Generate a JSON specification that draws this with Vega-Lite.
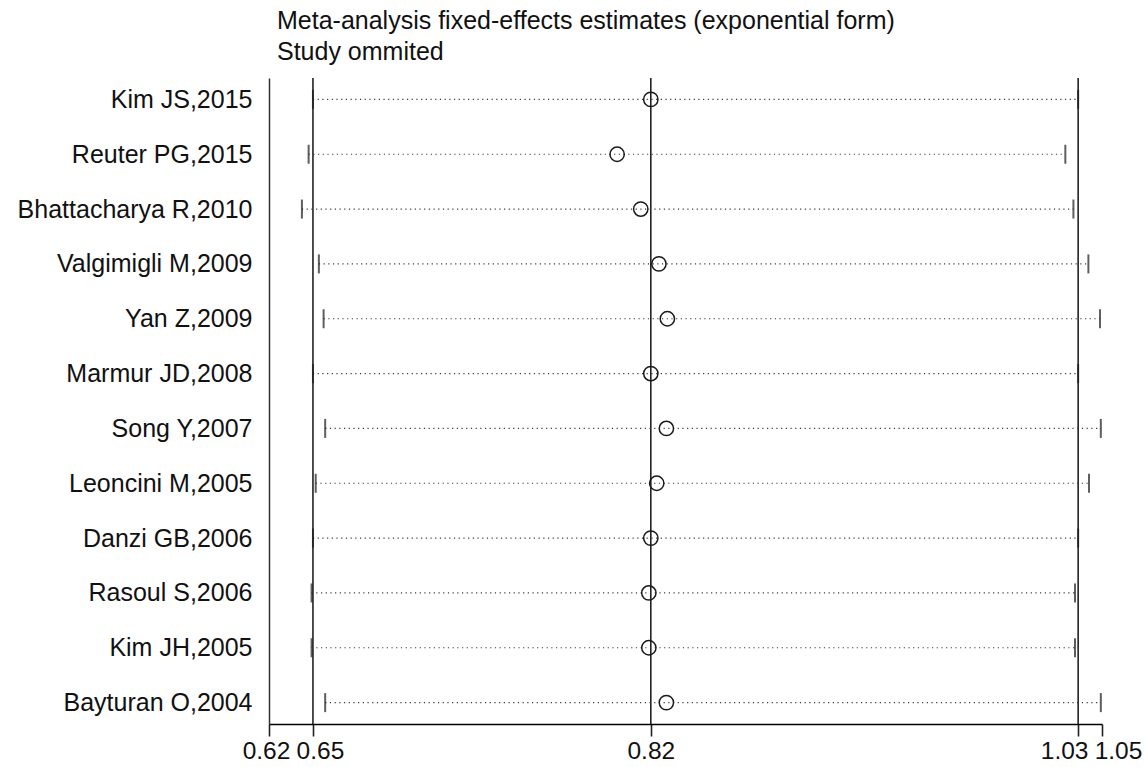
{
  "$schema": "https://vega.github.io/schema/vega-lite/v6.json",
  "width": 833,
  "height": 646,
  "autosize": {"type": "none"},
  "padding": {"left": 269, "top": 78, "right": 42, "bottom": 43},
  "background": "white",
  "config": {
    "view": {"stroke": null},
    "font": "Liberation Sans"
  },
  "title": {
    "text": ["Meta-analysis fixed-effects estimates (exponential form)", "Study ommited"],
    "anchor": "start",
    "frame": "group",
    "dx": 8,
    "fontSize": 25,
    "fontWeight": "normal",
    "font": "Liberation Sans",
    "color": "#111111",
    "lineHeight": 31,
    "offset": 12
  },
  "datasets": {
    "studies": [
      {"study": "Kim JS,2015", "lower": 0.646, "est": 0.8174, "upper": 1.0342},
      {"study": "Reuter PG,2015", "lower": 0.6438, "est": 0.8003, "upper": 1.0277},
      {"study": "Bhattacharya R,2010", "lower": 0.6404, "est": 0.8123, "upper": 1.0318},
      {"study": "Valgimigli M,2009", "lower": 0.649, "est": 0.8215, "upper": 1.0394},
      {"study": "Yan Z,2009", "lower": 0.6514, "est": 0.8258, "upper": 1.0453},
      {"study": "Marmur JD,2008", "lower": 0.646, "est": 0.8174, "upper": 1.0342},
      {"study": "Song Y,2007", "lower": 0.6522, "est": 0.8253, "upper": 1.0457},
      {"study": "Leoncini M,2005", "lower": 0.6474, "est": 0.8204, "upper": 1.0397},
      {"study": "Danzi GB,2006", "lower": 0.646, "est": 0.8174, "upper": 1.0342},
      {"study": "Rasoul S,2006", "lower": 0.6453, "est": 0.8164, "upper": 1.0326},
      {"study": "Kim JH,2005", "lower": 0.6453, "est": 0.8164, "upper": 1.0326},
      {"study": "Bayturan O,2004", "lower": 0.6522, "est": 0.8253, "upper": 1.0457}
    ],
    "overall": [
      {"value": 0.646},
      {"value": 0.8174},
      {"value": 1.0342}
    ]
  },
  "layer": [
    {
      "data": {"name": "overall"},
      "mark": {"type": "rule", "color": "#222222", "strokeWidth": 1.6},
      "encoding": {
        "x": {"field": "value", "type": "quantitative"}
      }
    },
    {
      "data": {"name": "studies"},
      "mark": {"type": "rule", "color": "#3a3a3a", "strokeWidth": 1.2, "strokeDash": [1.2, 3.5]},
      "encoding": {
        "y": {"field": "study", "type": "nominal"},
        "x": {"field": "lower", "type": "quantitative"},
        "x2": {"field": "upper"}
      }
    },
    {
      "data": {"name": "studies"},
      "mark": {"type": "tick", "color": "#1a1a1a", "size": 19, "thickness": 2},
      "encoding": {
        "y": {"field": "study", "type": "nominal"},
        "x": {"field": "lower", "type": "quantitative"}
      }
    },
    {
      "data": {"name": "studies"},
      "mark": {"type": "tick", "color": "#1a1a1a", "size": 19, "thickness": 2},
      "encoding": {
        "y": {"field": "study", "type": "nominal"},
        "x": {"field": "upper", "type": "quantitative"}
      }
    },
    {
      "data": {"name": "studies"},
      "mark": {"type": "point", "shape": "circle", "filled": false, "color": "#1a1a1a", "strokeWidth": 1.5, "size": 205, "opacity": 1},
      "encoding": {
        "y": {"field": "study", "type": "nominal"},
        "x": {"field": "est", "type": "quantitative"}
      }
    }
  ],
  "encoding": {
    "x": {
      "type": "quantitative",
      "scale": {"domain": [0.6237, 1.0463], "nice": false, "zero": false},
      "axis": {
        "title": null,
        "values": [0.6237, 0.646, 0.8174, 1.0342, 1.0463],
        "format": ".2f",
        "grid": false,
        "domainColor": "#000000",
        "domainWidth": 1.5,
        "tickColor": "#222222",
        "tickWidth": 1.6,
        "tickSize": 12,
        "labelFontSize": 24.5,
        "labelColor": "#111111",
        "labelPadding": 3,
        "labelOverlap": false,
        "labelBound": false,
        "labelFlush": false,
        "labelOffset": {
          "condition": [
            {"test": "datum.value < 0.63", "value": -3},
            {"test": "datum.value > 0.64 && datum.value < 0.7", "value": 7},
            {"test": "datum.value > 1.03 && datum.value < 1.04", "value": -14},
            {"test": "datum.value > 1.04", "value": 16}
          ],
          "value": 0
        }
      }
    },
    "y": {
      "type": "nominal",
      "sort": null,
      "scale": {"type": "point", "padding": 0.39},
      "axis": {
        "title": null,
        "ticks": false,
        "grid": false,
        "domainColor": "#333333",
        "domainWidth": 1.5,
        "labelFontSize": 25,
        "labelLimit": 0,
        "labelColor": "#111111",
        "labelPadding": 17,
        "labelAlign": "right"
      }
    }
  }
}
